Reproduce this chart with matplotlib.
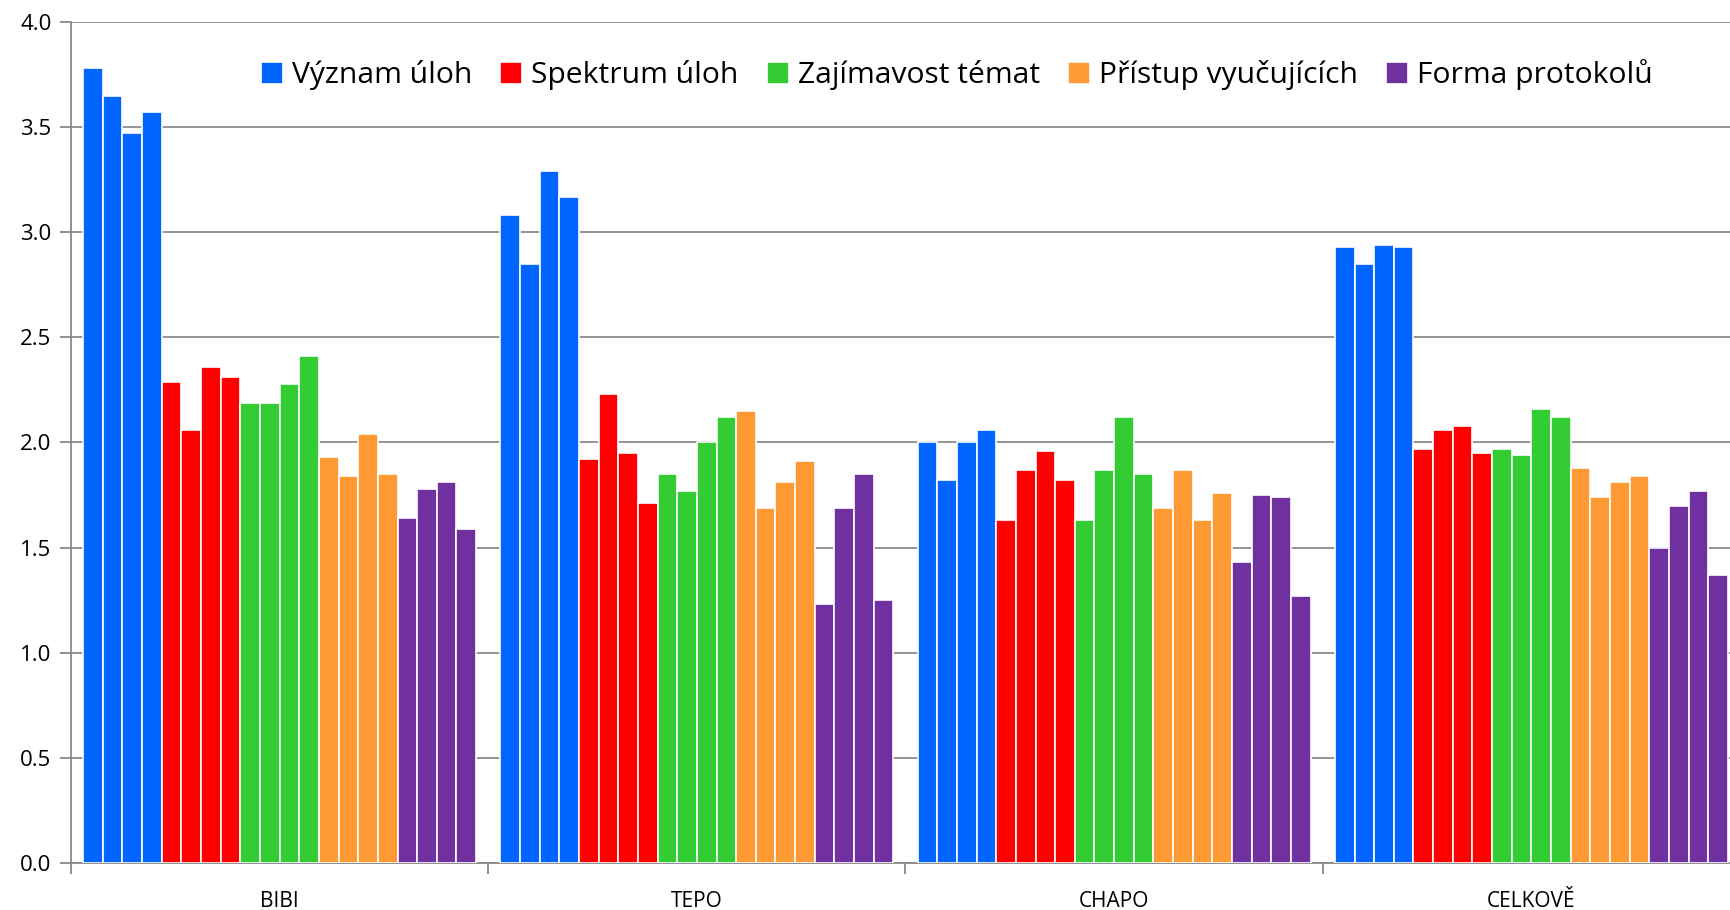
import numpy as np
import matplotlib
matplotlib.use("Agg")
from matplotlib import pyplot as plt

plt.rcParams['font.family'] = ['Open Sans', 'DejaVu Sans']

groups = ["BIBI", "TEPO", "CHAPO", "CELKOVĚ"]
series = ["Význam úloh", "Spektrum úloh", "Zajímavost témat",
          "Přístup vyučujících", "Forma protokolů"]
colors = ["#0066FF", "#FF0000", "#33CC33", "#FF9933", "#7030A0"]

# four bars per series in every group
vyznam = [[3.78, 3.65, 3.47, 3.57], [3.08, 2.85, 3.29, 3.17],
          [2.00, 1.82, 2.00, 2.06], [2.93, 2.85, 2.94, 2.93]]
spektrum = [[2.29, 2.06, 2.36, 2.31], [1.92, 2.23, 1.95, 1.71],
            [1.63, 1.87, 1.96, 1.82], [1.97, 2.06, 2.08, 1.95]]
zajimavost = [[2.19, 2.19, 2.28, 2.41], [1.85, 1.77, 2.00, 2.12],
              [1.63, 1.87, 2.12, 1.85], [1.97, 1.94, 2.16, 2.12]]
pristup = [[1.93, 1.84, 2.04, 1.85], [2.15, 1.69, 1.81, 1.91],
           [1.69, 1.87, 1.63, 1.76], [1.88, 1.74, 1.81, 1.84]]
forma = [[1.64, 1.78, 1.81, 1.59], [1.23, 1.69, 1.85, 1.25],
         [1.43, 1.75, 1.74, 1.27], [1.50, 1.70, 1.77, 1.37]]

data = [vyznam, spektrum, zajimavost, pristup, forma]

fig = plt.figure(figsize=(17.31, 9.10), dpi=100)
ax = fig.add_axes([71 / 1731, 47 / 910, 1669 / 1731, 841 / 910])

pad = 0.029
slot = (1 - 2 * pad) / 20
for s, (name, col) in enumerate(zip(series, colors)):
    for g in range(len(groups)):
        vals = data[s][g]
        xs = [g - 0.5 + pad + slot * (s * 4 + k + 0.5) for k in range(4)]
        ax.bar(xs, vals, width=slot, color=col, edgecolor="white",
               linewidth=1.2, label=name if g == 0 else None, zorder=3)

ax.set_xlim(-0.5, len(groups) - 0.5)
ax.set_ylim(0, 4)
ax.set_yticks(np.arange(0, 4.01, 0.5))
ax.set_yticklabels([f"{v:.1f}" for v in np.arange(0, 4.01, 0.5)])
ax.set_xticks(range(len(groups)))
ax.set_xticklabels(groups)
ax.set_xticks(np.arange(-0.5, len(groups), 1), minor=True)
ax.tick_params(axis="x", which="major", length=0, pad=20, labelsize=15)
ax.tick_params(axis="x", which="minor", length=8, width=1.3, color="#888888")
ax.tick_params(axis="y", length=8, width=1.3, color="#888888",
               labelsize=16, pad=6)

ax.yaxis.grid(True, color="#8c8c8c", linewidth=1.3, zorder=0)
ax.set_axisbelow(True)
for sp in ["top", "right"]:
    ax.spines[sp].set_visible(False)
for sp in ["left", "bottom"]:
    ax.spines[sp].set_color("#888888")
    ax.spines[sp].set_linewidth(1.3)

ax.legend(loc="center left", bbox_to_anchor=(249 / 1731, 1 - 75 / 910),
          bbox_transform=fig.transFigure, ncol=5, frameon=False,
          fontsize=21.6, handlelength=0.72, handleheight=0.72,
          handletextpad=0.3, columnspacing=0.95, borderaxespad=0)

fig.savefig("out.png", dpi=100)
